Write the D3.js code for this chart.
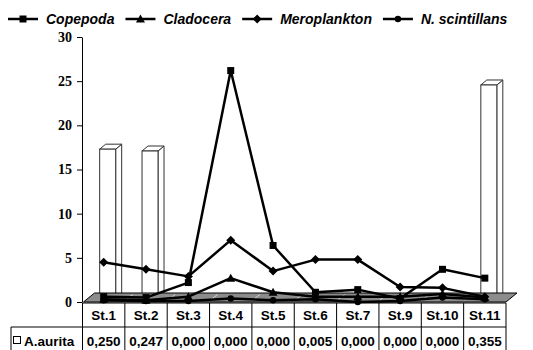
<!DOCTYPE html>
<html>
<head>
<meta charset="utf-8">
<script src="https://cdn.jsdelivr.net/npm/d3@7"></script>
<style>
  body { margin: 0; background: #fff; }
  .y.axis path, .y.axis line { stroke: #000; }
  .legend text { font-family: "Liberation Sans", Arial, sans-serif; font-weight: bold; font-style: italic; font-size: 14px; }
  .table text { font-family: "Liberation Sans", Arial, sans-serif; font-weight: bold; font-size: 13.5px; }
</style>
</head>
<body>
<div id="chart-container"></div>
<script>
  // stations (no St.8 in the source)
  var stations = ['St.1', 'St.2', 'St.3', 'St.4', 'St.5', 'St.6', 'St.7', 'St.9', 'St.10', 'St.11'];

  // line series
  var copepoda     = [0.6, 0.5, 2.2, 26.2, 6.4, 1.1, 1.4, 0.4, 3.7, 2.7];
  var cladocera    = [0.3, 0.2, 0.6, 2.7, 1.1, 0.6, 0.6, 0.6, 0.9, 0.5];
  var meroplankton = [4.5, 3.7, 2.9, 7.0, 3.5, 4.8, 4.8, 1.7, 1.6, 0.6];
  var scintillans  = [0.2, 0.1, 0.1, 0.4, 0.2, 0.3, 0.0, 0.1, 0.5, 0.3];

  // A.aurita columns (own hidden axis) + data table values
  var aurita = [0.250, 0.247, 0.000, 0.000, 0.000, 0.005, 0.000, 0.000, 0.000, 0.355];

  var yTicks = [0, 5, 10, 15, 20, 25, 30];

  var series = [
    { name: 'Copepoda', values: copepoda, marker: 'square' },
    { name: 'Cladocera', values: cladocera, marker: 'triangle' },
    { name: 'Meroplankton', values: meroplankton, marker: 'diamond' },
    { name: 'N. scintillans', values: scintillans, marker: 'circle' }
  ];

  var width = 533, height = 350;
  var depth = { dx: 11, dy: -9 };   // floor depth
  var barDepth = { dx: 6, dy: -5 };

  var svg = d3.select('#chart-container')
    .append('svg')
    .attr('width', width)
    .attr('height', height);

  var xScale = d3.scaleBand()
    .domain(stations)
    .range([82.5, 506]);

  var yScale = d3.scaleLinear()
    .domain([0, 30])
    .range([302, 37]);

  // secondary scale for the columns (not drawn in the source)
  var yBar = d3.scaleLinear()
    .domain([0, 0.4335])
    .range([302, 37]);

  var bw = xScale.bandwidth();
  function cx(s) { return xScale(s) + bw / 2; }

  // y axis
  var yAxisG = svg.append('g')
    .attr('class', 'y axis')
    .attr('transform', 'translate(82,0)')
    .call(d3.axisLeft(yScale).tickValues(yTicks).tickSize(5).tickSizeOuter(0).tickPadding(5));
  yAxisG.attr('font-family', '"Liberation Serif", "Times New Roman", serif').attr('font-size', 14);
  yAxisG.selectAll('text')
    .attr('font-weight', 'bold')
    .attr('fill', '#000');

  // A.aurita columns
  var barW = 16;
  var bars = svg.selectAll('g.bar')
    .data(stations.map(function(s, i) { return { st: s, v: aurita[i] }; }))
    .enter()
    .append('g')
    .attr('class', 'bar');

  bars.each(function(d) {
    var g = d3.select(this);
    var x0 = cx(d.st) + 4 - barW / 2, x1 = x0 + barW;
    var top = yBar(d.v), bottom = yScale(0) - 4;
    if (bottom - top < 1) return;
    var ddx = barDepth.dx, ddy = barDepth.dy;
    g.append('polygon')
      .attr('points', [[x1, top], [x1 + ddx, top + ddy], [x1 + ddx, bottom + ddy], [x1, bottom]].join(' '))
      .attr('fill', '#fff').attr('stroke', '#333').attr('stroke-width', 1);
    g.append('polygon')
      .attr('points', [[x0, top], [x0 + ddx, top + ddy], [x1 + ddx, top + ddy], [x1, top]].join(' '))
      .attr('fill', '#fff').attr('stroke', '#333').attr('stroke-width', 1);
    g.append('rect')
      .attr('x', x0).attr('y', top)
      .attr('width', barW).attr('height', bottom - top)
      .attr('fill', '#fff').attr('stroke', '#333').attr('stroke-width', 1);
  });

  // floor
  var fx0 = xScale.range()[0] + 1, fx1 = xScale.range()[1], fy = yScale(0);
  svg.append('polygon')
    .attr('points', [[fx0, fy], [fx1, fy], [fx1 + depth.dx, fy + depth.dy], [fx0 + depth.dx, fy + depth.dy]].join(' '))
    .attr('fill', '#8c8c8c')
    .attr('stroke', '#000')
    .attr('stroke-width', 1);

  svg.selectAll('.floor-mark')
    .data(stations.slice(1))
    .enter()
    .append('line')
    .attr('class', 'floor-mark')
    .attr('x1', function(d) { return xScale(d) + 1; })
    .attr('x2', function(d) { return xScale(d) + 8; })
    .attr('y1', fy - 2)
    .attr('y2', fy - 7.5)
    .attr('stroke', '#d6d6d6')
    .attr('stroke-width', 1);

  // lines
  var line = d3.line()
    .x(function(d, i) { return cx(stations[i]); })
    .y(function(d) { return yScale(d); });

  function drawMarker(g, type, x, y) {
    if (type === 'square') {
      g.append('rect').attr('x', x - 3.5).attr('y', y - 3.5).attr('width', 7).attr('height', 7).attr('fill', '#000');
    } else if (type === 'triangle') {
      g.append('path').attr('d', 'M' + x + ',' + (y - 4.5) + 'L' + (x + 4.5) + ',' + (y + 3.5) + 'L' + (x - 4.5) + ',' + (y + 3.5) + 'Z').attr('fill', '#000');
    } else if (type === 'diamond') {
      g.append('path').attr('d', 'M' + x + ',' + (y - 4.5) + 'L' + (x + 4.5) + ',' + y + 'L' + x + ',' + (y + 4.5) + 'L' + (x - 4.5) + ',' + y + 'Z').attr('fill', '#000');
    } else {
      g.append('circle').attr('cx', x).attr('cy', y).attr('r', 3.2).attr('fill', '#000');
    }
  }

  series.slice().reverse().forEach(function(s) {
    var g = svg.append('g').attr('class', 'series');
    g.append('path')
      .attr('d', line(s.values))
      .attr('fill', 'none')
      .attr('stroke', '#000')
      .attr('stroke-width', 2.5)
      .attr('stroke-linejoin', 'round');
    s.values.forEach(function(v, i) {
      drawMarker(g, s.marker, cx(stations[i]), yScale(v));
    });
  });

  // legend
  var legend = svg.append('g').attr('class', 'legend');
  var lx = 8, ly = 19;
  series.forEach(function(s) {
    legend.append('line')
      .attr('x1', lx).attr('x2', lx + 30)
      .attr('y1', ly).attr('y2', ly)
      .attr('stroke', '#000').attr('stroke-width', 2.5);
    drawMarker(legend, s.marker, lx + 15, ly);
    var t = legend.append('text')
      .attr('x', lx + 38)
      .attr('y', ly + 5)
      .text(s.name);
    lx = lx + 38 + t.node().getComputedTextLength() + 11;
  });

  // data table
  var table = svg.append('g').attr('class', 'table');
  var r0 = 303, r1 = 327, r2 = 351, left = 11;
  var tx0 = xScale.range()[0], tx1 = xScale.range()[1];
  [[tx0, r0, tx1, r0], [left, r1, tx1, r1], [left, r2, tx1, r2], [left, r1, left, r2]].forEach(function(l) {
    table.append('line')
      .attr('x1', l[0]).attr('y1', l[1]).attr('x2', l[2]).attr('y2', l[3])
      .attr('stroke', '#000').attr('stroke-width', 1);
  });
  table.selectAll('.col-line')
    .data(stations.concat(['end']))
    .enter()
    .append('line')
    .attr('class', 'col-line')
    .attr('x1', function(d) { return d === 'end' ? tx1 : xScale(d); })
    .attr('x2', function(d) { return d === 'end' ? tx1 : xScale(d); })
    .attr('y1', r0).attr('y2', r2)
    .attr('stroke', '#000').attr('stroke-width', 1);

  table.selectAll('.st-label')
    .data(stations)
    .enter()
    .append('text')
    .attr('class', 'st-label')
    .attr('x', cx)
    .attr('y', 319.5)
    .attr('text-anchor', 'middle')
    .text(function(d) { return d; });

  var fmt = d3.format('.3f');
  table.selectAll('.val-label')
    .data(aurita)
    .enter()
    .append('text')
    .attr('class', 'val-label')
    .attr('x', function(d, i) { return cx(stations[i]); })
    .attr('y', 345.5)
    .attr('text-anchor', 'middle')
    .text(function(d) { return fmt(d).replace('.', ','); });

  table.append('rect')
    .attr('x', 13.5).attr('y', 336.5)
    .attr('width', 7).attr('height', 7)
    .attr('fill', '#fff').attr('stroke', '#000').attr('stroke-width', 1);
  table.append('text')
    .attr('x', 24)
    .attr('y', 345.5)
    .text('A.aurita');
</script>
</body>
</html>
